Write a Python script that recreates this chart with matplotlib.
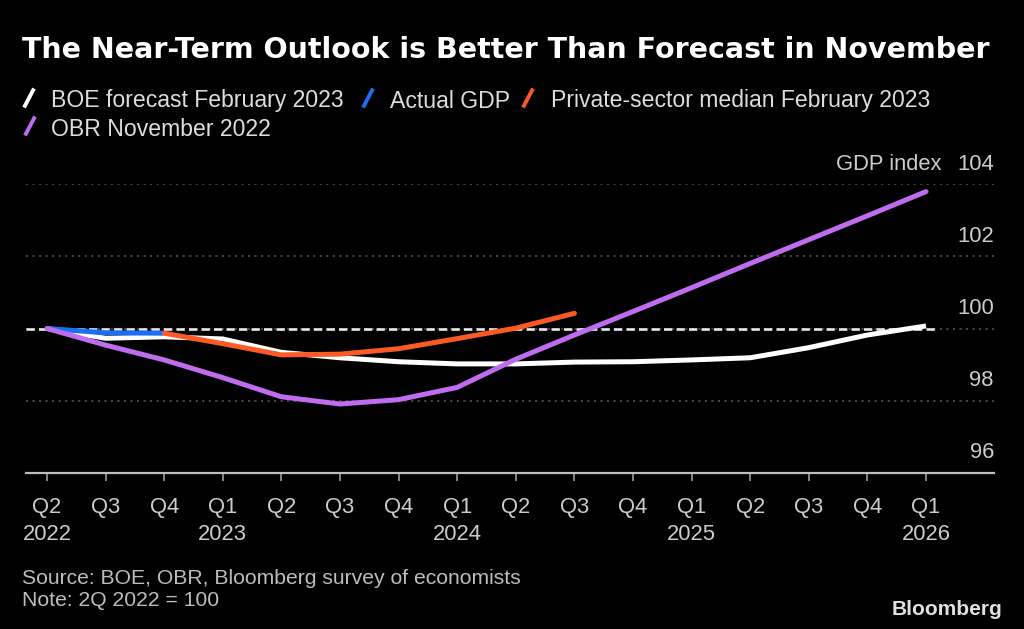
import matplotlib
matplotlib.use("Agg")
import matplotlib.pyplot as plt
from matplotlib.lines import Line2D
import matplotlib.transforms as mtransforms

# ---------------- data ----------------
quarters = ['Q2', 'Q3', 'Q4', 'Q1', 'Q2', 'Q3', 'Q4', 'Q1', 'Q2', 'Q3', 'Q4', 'Q1', 'Q2', 'Q3', 'Q4', 'Q1']
years = ['2022', '', '', '2023', '', '', '', '2024', '', '', '', '2025', '', '', '', '2026']

boe = [100.0, 99.73, 99.77, 99.71, 99.34, 99.19, 99.08, 99.02, 99.02, 99.07, 99.08, 99.13, 99.19, 99.47, 99.82, 100.07]
actual = [100.0, 99.88, 99.87]
private = [99.87, 99.58, 99.27, 99.29, 99.44, 99.72, 100.01, 100.42]   # Q4 2022 .. Q3 2024
private_start = 2
obr = [100.0, 99.54, 99.13, 98.64, 98.11, 97.91, 98.03, 98.37, 99.15, 99.82, 100.47, 101.13, 101.80, 102.46, 103.12, 103.79]

yticks = [96, 98, 100, 102, 104]
series_names = ['BOE forecast February 2023', 'Actual GDP', 'Private-sector median February 2023', 'OBR November 2022']
title = 'The Near-Term Outlook is Better Than Forecast in November'
source = 'Source: BOE, OBR, Bloomberg survey of economists'
note = 'Note: 2Q 2022 = 100'

# ---------------- style ----------------
plt.rcParams['font.family'] = ['Liberation Sans', 'DejaVu Sans']
plt.rcParams['lines.scale_dashes'] = False

W, H = 1024, 629
C_WHITE = '#ffffff'
C_BLUE = '#1a6ff5'
C_ORANGE = '#fc5a25'
C_PURPLE = '#bf6cf0'
C_TICK = '#cccccc'
C_GRID = '#5c5c5c'

def fx(px):
    return px / W

def fy(py):
    return 1 - py / H

fig = plt.figure(figsize=(W / 100, H / 100), dpi=100, facecolor='black')
ax_left, ax_right, ax_top, ax_bottom = 26, 994, 184, 473
ax = fig.add_axes([fx(ax_left), fy(ax_bottom), (ax_right - ax_left) / W, (ax_bottom - ax_top) / H])
ax.set_facecolor('black')

x_all = list(range(len(quarters)))
ax.set_xlim(-0.358, 16.16)
ax.set_ylim(96, 104)

# grid lines (dotted)
for v in yticks[1:]:
    ax.axhline(v, color=C_GRID, lw=1.1, linestyle=(0, (1.5, 3.2)), zorder=1)
# reference dashed line at 100
ax.plot([-0.358, 15.2], [100, 100], color='#e8e8e8', lw=1.9, linestyle=(0, (6, 3)), zorder=2,
        solid_capstyle='butt', dash_capstyle='butt')

lw = 3.6
ax.plot(x_all, boe, color=C_WHITE, lw=lw, zorder=3, solid_joinstyle='round', solid_capstyle='butt')
ax.plot(x_all[:len(actual)], actual, color=C_BLUE, lw=lw, zorder=4, solid_joinstyle='round', solid_capstyle='butt')
ax.plot(x_all[private_start:private_start + len(private)], private, color=C_ORANGE, lw=lw, zorder=5,
        solid_joinstyle='round', solid_capstyle='round')
ax.plot(x_all, obr, color=C_PURPLE, lw=lw, zorder=6, solid_joinstyle='round', solid_capstyle='round')

# spines
for s in ['top', 'right', 'left']:
    ax.spines[s].set_visible(False)
ax.spines['bottom'].set_color('#bdbdbd')
ax.spines['bottom'].set_linewidth(1.6)
ax.spines['bottom'].set_zorder(7)

# x ticks
labels = [q + ('\n' + y if y else '') for q, y in zip(quarters, years)]
ax.set_xticks(x_all)
ax.set_xticklabels(labels, fontsize=15.8, color=C_TICK, linespacing=1.4)
ax.tick_params(axis='x', length=6, width=1.2, color='#9a9a9a', pad=11, direction='out')
ax.set_yticks([])

# y tick labels (right side, above grid lines)
trans = mtransforms.blended_transform_factory(ax.transAxes, ax.transData)
offset = mtransforms.ScaledTranslation(0, 14.5 / 100, fig.dpi_scale_trans)
for v in yticks:
    ax.text(1.0, v, str(v), transform=trans + offset, ha='right', va='baseline',
            fontsize=15.8, color=C_TICK)
# axis title next to top label
ax.text((942 - ax_left) / (ax_right - ax_left), 104, 'GDP index', transform=trans + offset,
        ha='right', va='baseline', fontsize=15.8, color=C_TICK)

# title
fig.text(fx(22), fy(57.5), title, fontsize=20.5, fontweight='bold', color='white', ha='left', va='baseline',
         family=['DejaVu Sans'])

# legend
legend_items = [
    (C_WHITE, 24, 107.5, 51),
    (C_BLUE, 363, 107.5, 390),
    (C_ORANGE, 523, 107.5, 551),
    (C_PURPLE, 25, 135.5, 51),
]
for (col, mx, base, tx), name in zip(legend_items, series_names):
    fig.add_artist(Line2D([fx(mx), fx(mx + 10)], [fy(base), fy(base - 19)], color=col, lw=2.8,
                          solid_capstyle='butt', transform=fig.transFigure))
    fig.text(fx(tx), fy(base), name, fontsize=16.6, color='#dddddd', ha='left', va='baseline')

# source / note
fig.text(fx(22), fy(583.5), source, fontsize=15.2, color='#bdbdbd', ha='left', va='baseline')
fig.text(fx(22), fy(606.5), note, fontsize=15.2, color='#bdbdbd', ha='left', va='baseline')
fig.text(fx(1002), fy(615), 'Bloomberg', fontsize=15.0, fontweight='bold', color='#e0e0e0',
         ha='right', va='baseline')

fig.savefig('out.png', dpi=100, facecolor='black')
